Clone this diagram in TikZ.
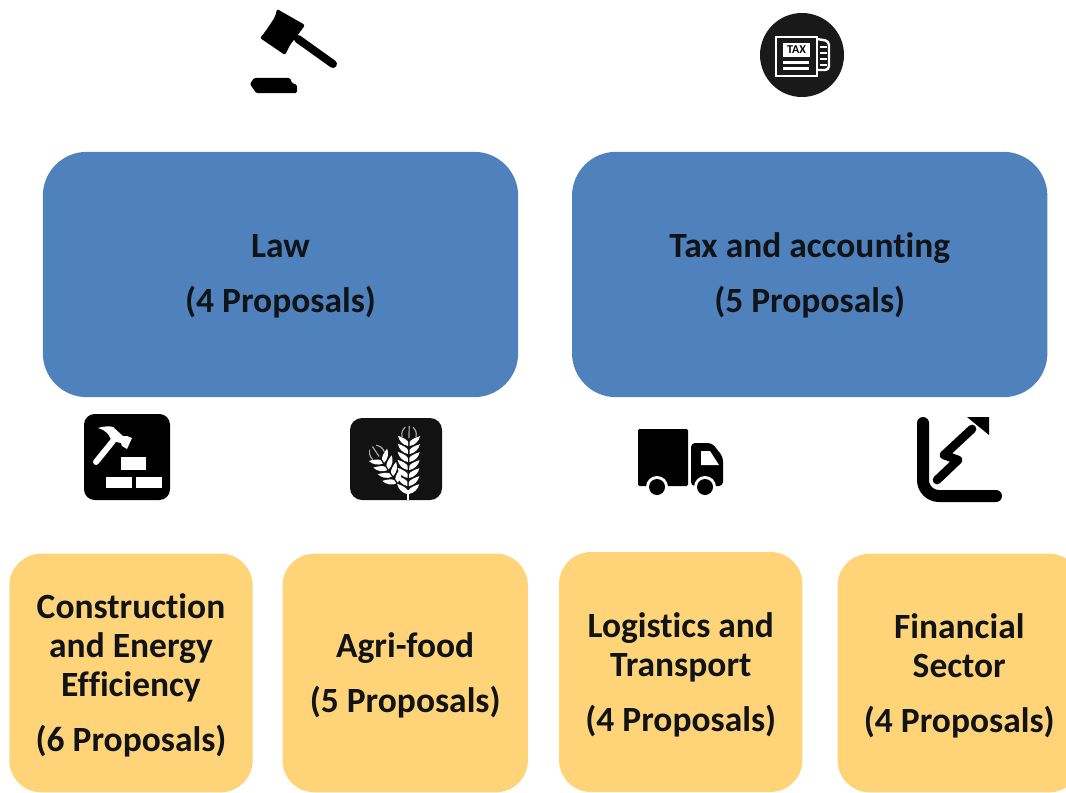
\documentclass[tikz,border=0pt]{standalone}
\usepackage{fontspec}
\setmainfont[Ligatures=NoCommon]{Carlito}
\usepackage{xcolor}
\usetikzlibrary{positioning}
\definecolor{boxblue}{HTML}{4F81BD}
\definecolor{boxyellow}{HTML}{FFD378}
\definecolor{inktext}{HTML}{101418}
\tikzset{
  panel/.style={fill=boxblue, rounded corners=33pt, minimum width=356.5pt, minimum height=184pt,
                inner sep=0pt, align=center},
  sector/.style={fill=boxyellow, rounded corners=24pt, minimum width=182.5pt, minimum height=179pt,
                inner sep=0pt, align=center}
}
\newcommand{\labelfont}{\fontsize{26.6}{29.25}\bfseries\selectfont\color{inktext}}
\newcommand{\toppad}{\rule{0pt}{22.5pt}}
\newcommand{\panelpad}{\rule{0pt}{19.5pt}}
% one ear of wheat: base point, direction, last row of grains
\newcommand{\wheatear}[4]{
  \begin{scope}[shift={(#1,#2)}, rotate=#3]
    \foreach \k in {0,...,#4} {
      \fill[white] (-0.8,-8*\k) .. controls (-6,-8*\k-1) and (-10,-8*\k-5) .. (-11,-8*\k-10)
                   .. controls (-6,-8*\k-8.5) and (-1.5,-8*\k-6) .. (-0.8,-8*\k-4) -- cycle;
      \fill[white] (0.8,-8*\k) .. controls (6,-8*\k-1) and (10,-8*\k-5) .. (11,-8*\k-10)
                   .. controls (6,-8*\k-8.5) and (1.5,-8*\k-6) .. (0.8,-8*\k-4) -- cycle;
    }
    \draw[gray!70, line width=0.9pt] (-7,-8*#4-9) .. controls (-8,-8*#4-14) and (-6,-8*#4-17) .. (-4,-8*#4-19);
    \draw[gray!70, line width=0.9pt] (7,-8*#4-9) .. controls (8,-8*#4-14) and (6,-8*#4-17) .. (4,-8*#4-19);
    \draw[gray!70, line width=0.9pt] (0,-8*#4-8) -- (0,-8*#4-20);
  \end{scope}
}

\begin{document}
\begin{tikzpicture}[x=0.75pt, y=-0.75pt, font=\labelfont]
        \path[use as bounding box, clip] (0,0) rectangle (1066,792);
        \fill[white] (0,0) rectangle (1066,792);

        % Upper panels
        \node[panel] (law) at (280.5,274.5) {\panelpad Law\\[12pt](4 Proposals)};
        \node[panel, right=40pt of law] (tax) {\panelpad Tax and accounting\\[12pt](5 Proposals)};

        % Sector boxes
        \node[sector] (constr) at (131,673) {\toppad Construction\\and Energy\\Efficiency\\[12pt](6 Proposals)};
        \node[sector, right=22pt of constr, minimum width=184pt] (agri) {\toppad Agri-food\\[12pt](5 Proposals)};
        \node[sector, right=23pt of agri, yshift=0.75pt, minimum height=180pt] (logi) {\toppad Logistics and\\Transport\\[12pt](4 Proposals)};
        \node[sector, right=26pt of logi, yshift=-0.75pt] (fin) {\toppad Financial\\Sector\\[12pt](4 Proposals)};

        % Gavel
        \fill[black, rounded corners=1.5pt] (277,9) -- (305,25) -- (300,32) -- (290,45) -- (285,55) -- (260,38)
              -- (265,32) -- (275,17) -- cycle;
        \draw[black, line width=6pt, line cap=round] (298,39) -- (333,64);
        \fill[black, rounded corners=1pt] (250,84) -- (254,78) -- (290,78) -- (292,83) -- (297,85) -- (297,93)
              -- (256,93) -- cycle;

        % Tax icon
        \fill[black!90] (802,55) circle (42);
        \draw[white, line width=1.8pt] (776,37) rectangle (817,76);
        \draw[white, line width=1.8pt, rounded corners=3pt] (817,39) -- (829,41) -- (829,70) -- (817,70);
        \node[fill=white, text=black, inner sep=0pt, minimum width=20pt, minimum height=10.5pt,
              font=\fontsize{9}{9}\bfseries\selectfont] (taxword) at (796.5,50) {TAX};
        \foreach \y in {61,67} \fill[white] (783,\y) rectangle (809,\y+3);
        \foreach \y in {46,52,58,64} \fill[white] (820,\y) rectangle (827,\y+2.5);

        % Construction icon
        \fill[black, rounded corners=8pt] (84,414) rectangle (170,500);
        \fill[white] (121,457) rectangle (146,470);
        \fill[white] (106,477) rectangle (132,488);
        \fill[white] (136,477) rectangle (162,488);
        \draw[white, line width=4.5pt, line cap=round] (96,462) -- (113,441);
        \fill[white] (98,428) .. controls (104,426) and (110,426) .. (113,427) -- (123,436) -- (127,436)
              -- (132,438) -- (127,449) -- (122,446) -- (121,443) -- (112,441) -- (108,434)
              .. controls (105,431) and (102,429) .. (98,428) -- cycle;

        % Wheat icon
        \fill[black!93, rounded corners=9pt] (350,418) rectangle (442,500);
        \wheatear{397}{483}{34}{3}
        \wheatear{408}{494}{-1}{6}
        \draw[white, line width=0.8pt] (408,500) -- (408,490);

        % Truck
        \fill[black, rounded corners=1pt] (638,429) rectangle (688,486);
        \fill[black, rounded corners=3pt] (691,443) -- (712,443) -- (723,457) -- (723,486) -- (691,486) -- cycle;
        \fill[white] (701,451) -- (710,451) -- (719,465) -- (701,465) -- cycle;
        \foreach \x in {657,705} {
          \fill[white] (\x,487) circle (11);
          \fill[black] (\x,487) circle (8);
        }

        % Growth chart
        \draw[black, line width=9pt, line cap=round, rounded corners=12pt] (923,423) -- (923,496) -- (996,496);
        \draw[black, line width=6.5pt, line cap=round, line join=round] (972,429) -- (944,455) -- (958,460) -- (937,480);
        \fill[black] (967,417) -- (989,417) -- (989,435) -- cycle;
\end{tikzpicture}
\end{document}
